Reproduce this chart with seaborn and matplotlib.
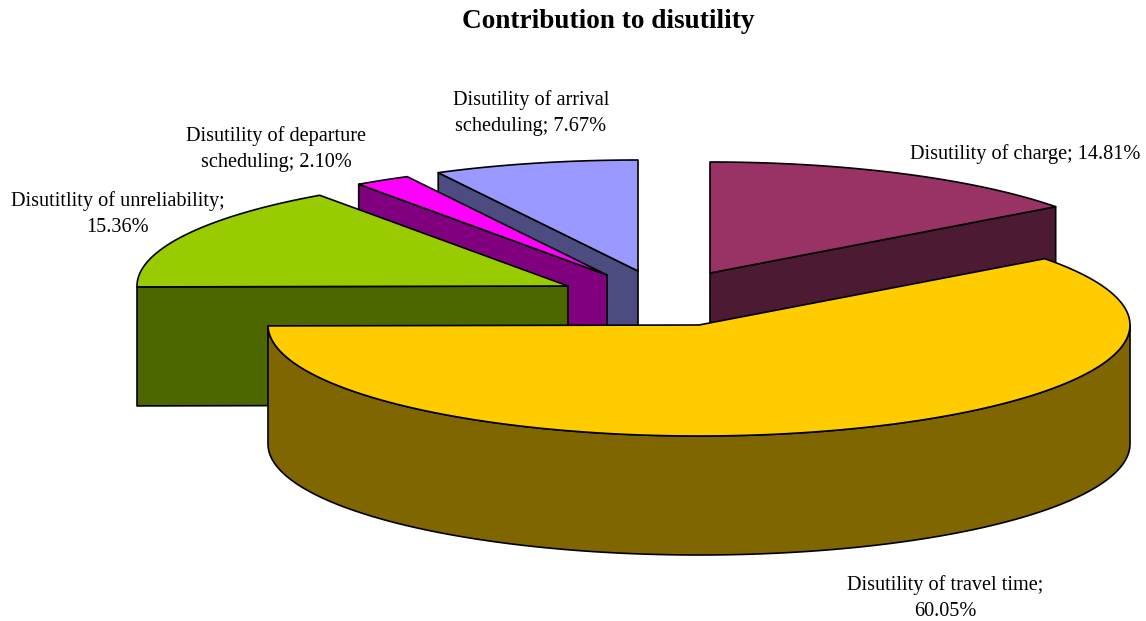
import numpy as np
import matplotlib.pyplot as plt
import seaborn as sns

# Contribution to disutility - 3d exploded pie

names = ["Disutility of charge;", "Disutility of travel time;\n", "Disutitlity of unreliability;\n",
         "Disutility of departure\nscheduling;", "Disutility of arrival\nscheduling;"]
shares = [14.81, 60.05, 15.36, 2.10, 7.67]
top_colors = ["#993366", "#FFCC00", "#99CC00", "#FF00FF", "#9999FF"]
side_colors = ["#4C1A33", "#806600", "#4C6600", "#800080", "#4C4C80"]

# where each slice's tip sits after the explode (pixels)
tips = [(710, 273), (699, 325), (568, 286), (607, 275), (638, 271)]
label_pos = [(1025, 154), (945, 598), (118, 214), (276, 149), (531, 113)]
draw_order = [4, 3, 2, 0, 1]

RX, RY, DEPTH = 431, 111, 119

sns.set_theme(style="white")
plt.rcParams["font.family"] = ["Liberation Serif", "DejaVu Serif"]

fig, ax = plt.subplots(figsize=(11.46, 6.21), dpi=100)
ax.set_position([0, 0, 1, 1])
ax.set_xlim(0, 1146)
ax.set_ylim(621, 0)
ax.axis("off")


def rim(tip, a, b):
    t = np.radians(np.linspace(a, b, 200))
    return tip[0] + RX * np.sin(t), tip[1] - RY * np.cos(t)


# slice angles clockwise from 12 o'clock
edges = np.concatenate([[0], np.cumsum(shares) / sum(shares) * 360])

for i in draw_order:
    a, b = edges[i], edges[i + 1]
    tip = tips[i]
    x, y = rim(tip, a, b)
    style = dict(edgecolor="black", linewidth=1.2, joinstyle="round")

    # outer wall, only the front half of the ellipse shows
    lo, hi = max(a, 90), min(b, 270)
    if hi - lo > 1:
        wx, wy = rim(tip, lo, hi)
        ax.fill(np.r_[wx, wx[::-1]], np.r_[wy, wy[::-1] + DEPTH], facecolor=side_colors[i], **style)

    # cut faces that look towards the viewer
    if a >= 180:
        ax.fill([tip[0], x[0], x[0], tip[0]], [tip[1], y[0], y[0] + DEPTH, tip[1] + DEPTH],
                facecolor=side_colors[i], **style)
    if b <= 180:
        ax.fill([tip[0], x[-1], x[-1], tip[0]], [tip[1], y[-1], y[-1] + DEPTH, tip[1] + DEPTH],
                facecolor=side_colors[i], **style)

    ax.fill(np.r_[tip[0], x], np.r_[tip[1], y], facecolor=top_colors[i], **style)

for name, share, pos in zip(names, shares, label_pos):
    sep = "" if name.endswith("\n") else " "
    ax.text(pos[0], pos[1], f"{name}{sep}{share:.2f}%", ha="center", va="center",
            fontsize=14.6, color="black", linespacing=1.5)

ax.text(608, 22, "Contribution to disutility", ha="center", va="center",
        fontsize=19.6, fontweight="bold", color="black")

fig.savefig("out.png", dpi=100)
